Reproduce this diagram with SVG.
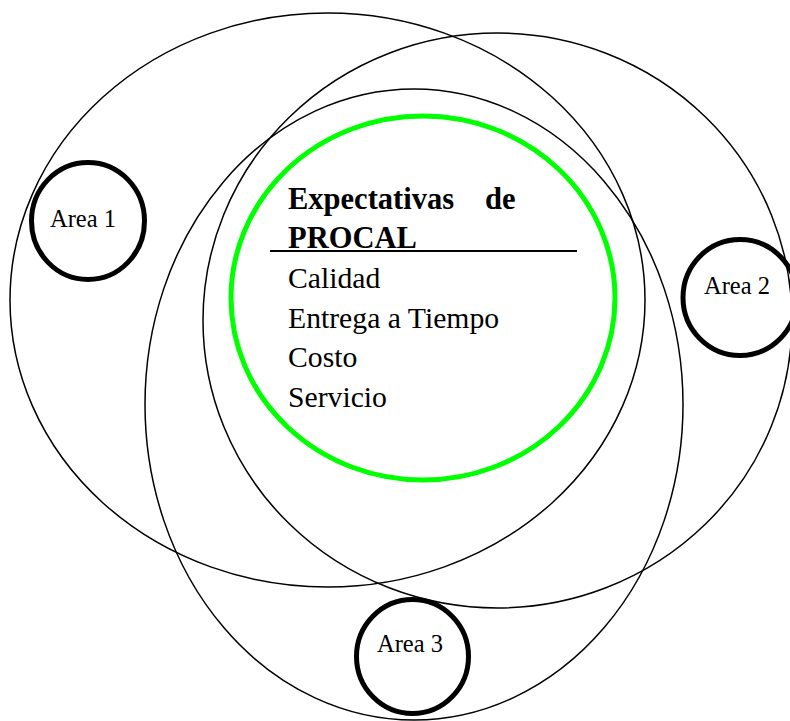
<svg xmlns="http://www.w3.org/2000/svg" width="790" height="721" viewBox="0 0 790 721">
<style>
.big{fill:none;stroke:#000;stroke-width:1.5}
.area{fill:none;stroke:#000;stroke-width:5}
.green{fill:none;stroke:#00ff00;stroke-width:5}
.lbl{font-family:"Liberation Serif","Times New Roman",serif;font-size:24.5px;fill:#000}
.txt{font-family:"Liberation Serif","Times New Roman",serif;font-size:29.7px;fill:#000}
.bold{font-family:"Liberation Serif","Times New Roman",serif;font-size:30.5px;font-weight:bold;fill:#000}
</style>
<rect width="790" height="721" fill="#fff"/>
<g id="circle-left"><ellipse class="big" cx="327.5" cy="300" rx="317.5" ry="287"/></g>
<g id="circle-right"><ellipse class="big" cx="497.5" cy="320.5" rx="294.5" ry="287.5"/></g>
<g id="circle-bottom"><ellipse class="big" cx="414" cy="404.5" rx="269" ry="315.5"/></g>
<g id="expectativas">
<ellipse class="green" cx="423" cy="298" rx="192" ry="182"/>
<text class="bold" x="288" y="209">Expectativas</text>
<text class="bold" x="485" y="209">de</text>
<text class="bold" x="288" y="248">PROCAL</text>
<line x1="270" y1="251" x2="577" y2="251" stroke="#000" stroke-width="2"/>
<text class="txt" x="288" y="288">Calidad</text>
<text class="txt" x="288" y="327.5">Entrega a Tiempo</text>
<text class="txt" x="288" y="367">Costo</text>
<text class="txt" x="288" y="406.5">Servicio</text>
</g>
<g id="area1"><ellipse class="area" cx="88" cy="221" rx="56.5" ry="58.5"/><text class="lbl" x="50" y="227">Area 1</text></g>
<g id="area2"><ellipse class="area" cx="740" cy="297.5" rx="57" ry="58"/><text class="lbl" x="704" y="294">Area 2</text></g>
<g id="area3"><ellipse class="area" cx="412.5" cy="656.5" rx="56" ry="57"/><text class="lbl" x="377" y="652">Area 3</text></g>
<g id="connectors"></g>
</svg>
